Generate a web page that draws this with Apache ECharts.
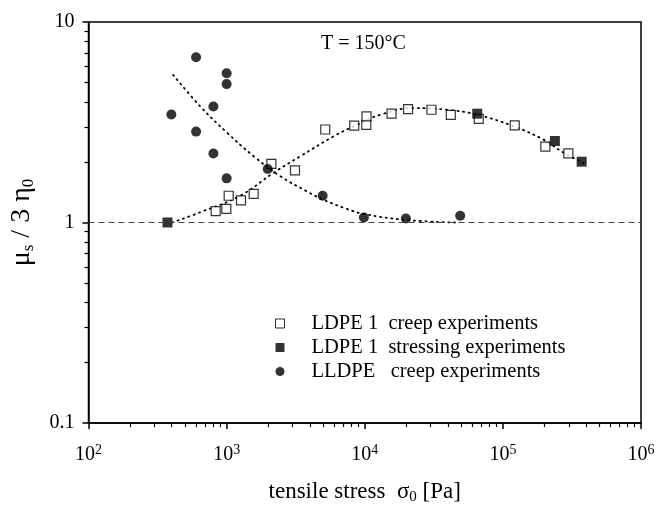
<!DOCTYPE html>
<html>
<head>
<meta charset="utf-8">
<script src="https://cdn.jsdelivr.net/npm/echarts@6/dist/echarts.min.js"></script>
<style>html,body{margin:0;padding:0;background:#fff;}#c{width:661px;height:510px;}</style>
</head>
<body>
<div id="c"></div>
<script>
// LDPE 1 creep experiments (open squares)
var ldpeCreepX = [833, 995, 1035, 1271, 1570, 2109, 3126, 5176, 8393, 10260, 10300, 15630, 20590, 30400, 41980, 66900, 121900, 203000, 298000];
var ldpeCreepY = [1.14, 1.17, 1.36, 1.29, 1.39, 1.96, 1.82, 2.91, 3.04, 3.07, 3.38, 3.49, 3.68, 3.65, 3.44, 3.29, 3.05, 2.39, 2.21];
// LDPE 1 stressing experiments (filled squares)
var ldpeStressX = [373, 65200, 238000, 372000];
var ldpeStressY = [1.0, 3.49, 2.55, 2.01];
// LLDPE creep experiments (filled circles)
var lldpeX = [398, 601, 601, 802, 802, 1000, 1000, 1000, 1983, 4955, 9860, 19860, 49100];
var lldpeY = [3.46, 6.67, 2.84, 3.79, 2.21, 5.55, 4.90, 1.66, 1.85, 1.36, 1.06, 1.047, 1.08];
// dotted guide curves
var ldpeFitX = [403, 645, 1255, 2190, 3420, 5950, 8780, 12980, 22440, 39300, 65100, 119600, 197000, 275000, 384000];
var ldpeFitY = [1.0, 1.125, 1.36, 1.77, 2.14, 2.69, 3.07, 3.45, 3.72, 3.65, 3.45, 3.02, 2.59, 2.23, 1.98];
var lldpeFitX = [410, 645, 1010, 1570, 2450, 3810, 5000, 7400, 10000, 20000, 45000];
var lldpeFitY = [5.45, 3.79, 2.80, 2.14, 1.70, 1.43, 1.30, 1.17, 1.10, 1.03, 1.0];
// axis ranges and reference line
var xMin = 100, xMax = 1e6, yMin = 0.1, yMax = 10;
var refLineY = 1;
var legendNames = ['LDPE 1  creep experiments', 'LDPE 1  stressing experiments', 'LLDPE   creep experiments'];

function zip(xs, ys) { return xs.map(function (x, i) { return [x, ys[i]]; }); }

var serif = '"Liberation Serif", "DejaVu Serif", serif';
var ink = '#000';
var chart = echarts.init(document.getElementById('c'), null, {renderer: 'canvas'});
chart.setOption({
  animation: false,
  backgroundColor: '#fff',
  grid: {left: 88, right: 20, top: 22, bottom: 85, show: true, borderColor: ink, borderWidth: 1.5, backgroundColor: 'transparent'},
  xAxis: {
    type: 'log', logBase: 10, min: xMin, max: xMax,
    name: '{t|tensile stress  σ}{s|0}{t| [Pa]}', nameLocation: 'middle', nameGap: 56,
    nameTextStyle: {rich: {t: {fontFamily: serif, fontSize: 23, color: ink}, s: {fontFamily: serif, fontSize: 15, color: ink, padding: [11, 0, 0, 0]}}},
    axisLine: {show: true, lineStyle: {color: ink, width: 1.5}},
    axisTick: {show: true, inside: false, length: 6, lineStyle: {color: ink, width: 1.5}},
    minorTick: {show: true, splitNumber: 9, length: 4, lineStyle: {color: ink, width: 1.2}},
    splitLine: {show: false}, minorSplitLine: {show: false},
    axisLabel: {
      margin: 20,
      formatter: function (v) { return '{b|10}{e|' + Math.round(Math.log10(v)) + '}'; },
      rich: {b: {fontFamily: serif, fontSize: 20, color: ink}, e: {fontFamily: serif, fontSize: 14, color: ink, padding: [0, 0, 10, 0]}}
    }
  },
  yAxis: {
    type: 'log', logBase: 10, min: yMin, max: yMax,
    name: '{m|μ}{s|s}{m| / 3 η}{s|0}', nameLocation: 'middle', nameGap: 51, nameRotate: 90,
    nameTextStyle: {rich: {m: {fontFamily: serif, fontSize: 28, color: ink}, s: {fontFamily: serif, fontSize: 17, color: ink, padding: [14, 0, 0, 0]}}},
    axisLine: {show: true, lineStyle: {color: ink, width: 1.5}},
    axisTick: {show: true, inside: false, length: 6, lineStyle: {color: ink, width: 1.5}},
    minorTick: {show: true, splitNumber: 9, length: 4, lineStyle: {color: ink, width: 1.2}},
    splitLine: {show: false}, minorSplitLine: {show: false},
    axisLabel: {margin: 14, fontFamily: serif, fontSize: 20, color: ink, formatter: function (v) { return String(+v.toPrecision(3)); }}
  },
  legend: {
    orient: 'vertical', left: 270, top: 308, itemGap: 3, itemWidth: 9, itemHeight: 9,
    data: [
      {name: legendNames[0], icon: 'rect', itemStyle: {color: '#fff', borderColor: ink, borderWidth: 1}},
      {name: legendNames[1], icon: 'rect', itemStyle: {color: ink}},
      {name: legendNames[2], icon: 'circle', itemStyle: {color: ink}}
    ],
    textStyle: {fontFamily: serif, fontSize: 20.5, color: ink, padding: [0, 0, 0, 22]}
  },
  graphic: [{type: 'text', left: 321, top: 34, style: {text: 'T = 150°C', font: '20px ' + serif, fill: ink}}],
  series: [
    {type: 'line', name: 'ldpeFit', data: zip(ldpeFitX, ldpeFitY), smooth: 0.4, symbol: 'none', silent: true,
      lineStyle: {color: ink, width: 1.8, type: [1.2, 4.5], cap: 'round'}, z: 1,
      markLine: {silent: true, symbol: 'none', label: {show: false}, lineStyle: {color: '#444', width: 1, type: [6, 4]}, data: [{yAxis: refLineY}]}},
    {type: 'line', name: 'lldpeFit', data: zip(lldpeFitX, lldpeFitY), smooth: 0.4, symbol: 'none', silent: true,
      lineStyle: {color: ink, width: 1.8, type: [1.2, 4.5], cap: 'round'}, z: 1},
    {type: 'scatter', name: legendNames[0], data: zip(ldpeCreepX, ldpeCreepY), symbol: 'rect', symbolSize: 9,
      itemStyle: {color: '#fff', borderColor: ink, borderWidth: 1.2}, z: 3},
    {type: 'scatter', name: legendNames[1], data: zip(ldpeStressX, ldpeStressY), symbol: 'rect', symbolSize: 10,
      itemStyle: {color: ink}, z: 4},
    {type: 'scatter', name: legendNames[2], data: zip(lldpeX, lldpeY), symbol: 'circle', symbolSize: 10,
      itemStyle: {color: ink}, z: 4}
  ]
});
</script>
</body>
</html>
